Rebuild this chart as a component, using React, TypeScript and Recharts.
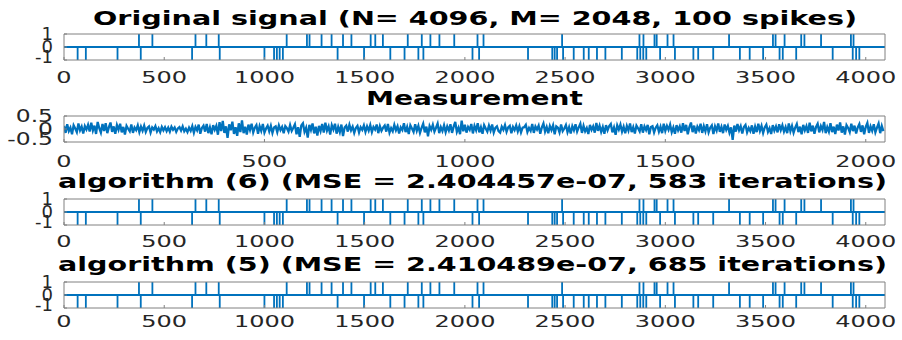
import { LineChart, Line, XAxis, YAxis } from "recharts";

const signalTicks = [0, 500, 1000, 1500, 2000, 2500, 3000, 3500, 4000];
const measTicks = [0, 500, 1000, 1500, 2000];
const spikeYTicks = [-1, 0, 1];
const measYTicks = [-0.5, 0, 0.5];

// spike positions (sorted) and their signs
const spikePos = [
  68, 109, 267, 374, 383, 441, 639, 656, 710, 772, 777, 1000, 1048, 1062, 1076, 1092,
  1111, 1212, 1225, 1285, 1335, 1365, 1392, 1434, 1497, 1530, 1553, 1591, 1628, 1699,
  1715, 1768, 1785, 1793, 1828, 1873, 1947, 2038, 2063, 2071, 2093, 2315, 2436, 2448,
  2460, 2485, 2490, 2543, 2593, 2618, 2659, 2701, 2783, 2860, 2871, 2875, 2890, 2891,
  2905, 2946, 2957, 2974, 3011, 3041, 3048, 3140, 3164, 3239, 3318, 3372, 3421, 3488,
  3537, 3550, 3570, 3586, 3595, 3653, 3678, 3694, 3777, 3835, 3926, 3935, 3939, 3952, 3968,
];
const spikeVal = [
  -1, -1, -1, 1, -1, 1, -1, 1, 1, 1, -1, -1, -1, -1, -1, -1,
  1, 1, 1, 1, 1, -1, 1, 1, -1, 1, 1, 1, -1, -1,
  1, -1, 1, -1, 1, 1, 1, -1, 1, -1, 1, -1, -1, -1,
  -1, 1, -1, -1, -1, -1, -1, -1, -1, -1, 1, -1, -1, 1,
  -1, 1, 1, -1, 1, 1, -1, -1, -1, -1, 1, -1, -1, -1,
  1, 1, -1, -1, 1, -1, 1, 1, 1, -1, 1, -1, 1, -1, -1,
];

// measurement, one value every 4 samples
const measurement = [
  0.12, -0.15, 0.18, -0.08, 0.05, -0.2, 0.14, 0.02, -0.12, 0.21, -0.05, 0.09, -0.17, 0.11, -0.02, 0.16,
  -0.1, 0.24, -0.06, 0.13, -0.19, 0.27, 0.03, -0.14, 0.19, -0.08, 0.22, -0.16, 0.07, 0.25, -0.11, 0.1,
  -0.18, 0.15, -0.03, 0.2, -0.13, 0.08, -0.21, 0.12, 0.01, -0.09, 0.17, -0.15, 0.06, -0.04, 0.14, -0.12,
  0.09, -0.07, 0.13, -0.11, 0.04, 0.1, -0.14, 0.06, -0.02, 0.11, -0.09, 0.03, -0.12, 0.08, -0.05, 0.07,
  -0.08, 0.05, -0.1, 0.09, -0.03, 0.06, -0.11, 0.02, 0.07, -0.06, 0.1, -0.09, 0.01, -0.12, 0.05, -0.07,
  0.11, -0.14, 0.08, -0.05, 0.17, -0.18, 0.04, 0.13, -0.1, 0.19, -0.16, 0.06, -0.2, 0.15, -0.03, 0.12,
  -0.22, 0.26, -0.08, 0.31, -0.15, 0.1, -0.34, 0.18, -0.05, 0.28, -0.19, 0.07, -0.26, 0.22, -0.12, 0.33,
  -0.16, 0.09, -0.21, 0.17, -0.04, 0.2, -0.13, 0.05, 0.15, -0.18, 0.11, -0.07, 0.19, -0.14, 0.02, 0.13,
  -0.09, 0.12, -0.15, 0.06, 0.1, -0.12, 0.14, -0.04, 0.08, -0.16, 0.11, 0.03, -0.1, 0.15, -0.07, 0.05,
  0.18, -0.2, 0.07, -0.3, 0.14, 0.22, -0.11, 0.05, -0.33, 0.16, -0.04, 0.21, -0.17, 0.09, -0.25, 0.12,
  -0.08, 0.19, -0.14, 0.24, -0.06, 0.1, -0.21, 0.15, -0.02, 0.2, -0.18, 0.08, -0.12, 0.17, -0.27, 0.06,
  0.13, -0.1, 0.16, -0.05, 0.09, -0.15, 0.04, 0.12, -0.13, 0.07, -0.03, 0.14, -0.11, 0.1, -0.06, 0.15,
  -0.12, 0.08, -0.02, 0.17, -0.16, 0.11, -0.07, 0.05, 0.13, -0.1, 0.19, -0.14, 0.03, -0.09, 0.16, -0.05,
  0.1, -0.17, 0.06, -0.04, 0.22, -0.12, 0.08, -0.19, 0.14, 0.02, -0.11, 0.18, -0.07, 0.12, -0.15, 0.04,
  0.2, -0.13, 0.09, -0.28, 0.11, -0.03, 0.16, -0.1, 0.05, 0.21, -0.16, 0.07, -0.08, 0.14, -0.12, 0.1,
  -0.06, 0.18, -0.15, 0.09, 0.27, -0.11, 0.05, -0.2, 0.32, -0.09, 0.16, -0.14, 0.08, -0.03, 0.19, -0.17,
  0.12, -0.05, 0.22, -0.13, 0.07, -0.18, 0.15, 0.02, -0.1, 0.13, -0.06, 0.17, -0.14, 0.04, 0.1, -0.08,
  -0.14, 0.09, -0.03, 0.15, -0.11, 0.06, 0.12, -0.16, 0.08, -0.04, 0.14, -0.09, 0.11, -0.13, 0.05, 0.07,
  0.16, -0.12, 0.04, -0.07, 0.19, -0.15, 0.1, -0.02, 0.13, -0.18, 0.06, 0.21, -0.1, 0.08, -0.16, 0.12,
  -0.04, 0.14, -0.2, 0.1, 0.05, -0.13, 0.17, -0.08, 0.02, 0.15, -0.12, 0.07, -0.17, 0.11, -0.05, 0.18,
  -0.1, 0.06, 0.2, -0.15, 0.12, -0.09, 0.04, -0.19, 0.16, -0.03, 0.1, -0.14, 0.23, -0.07, 0.13, -0.11,
  0.08, -0.18, 0.15, -0.05, 0.11, 0.19, -0.13, 0.06, -0.22, 0.14, -0.02, 0.17, -0.1, 0.09, -0.16, 0.12,
  -0.06, 0.21, -0.12, 0.07, -0.17, 0.13, 0.03, -0.09, 0.18, -0.14, 0.1, -0.04, 0.16, -0.2, 0.08, 0.11,
  -0.13, 0.05, 0.14, -0.1, 0.09, -0.16, 0.2, -0.07, 0.12, -0.03, 0.17, -0.12, 0.06, -0.18, 0.15, -0.05,
  0.1, -0.14, 0.22, -0.08, 0.16, -0.2, 0.07, 0.25, -0.12, 0.13, -0.17, 0.09, -0.04, 0.2, -0.15, 0.11,
  -0.09, 0.18, -0.13, 0.05, 0.14, -0.19, 0.1, -0.06, 0.21, -0.11, 0.08, -0.16, 0.17, -0.03, 0.12, -0.14,
  0.06, -0.42, 0.13, -0.1, 0.19, -0.05, 0.11, -0.17, 0.08, 0.16, -0.13, 0.04, -0.08, 0.14, -0.18, 0.09,
  -0.12, 0.2, -0.07, 0.12, -0.15, 0.06, 0.17, -0.11, 0.03, -0.19, 0.15, -0.06, 0.1, -0.13, 0.18, -0.04,
  0.14, -0.1, 0.07, -0.16, 0.21, -0.08, 0.12, -0.14, 0.05, 0.19, -0.12, 0.09, -0.2, 0.16, -0.05, 0.11,
  -0.15, 0.24, -0.09, 0.13, -0.18, 0.08, 0.2, -0.13, 0.11, -0.04, 0.27, -0.16, 0.07, -0.1, 0.22, -0.12,
  0.09, -0.19, 0.17, -0.06, 0.25, -0.14, 0.1, -0.21, 0.15, 0.04, -0.12, 0.2, -0.08, 0.13, -0.17, 0.06,
  0.19, -0.11, 0.14, -0.2, 0.08, 0.23, -0.15, 0.1, -0.07, 0.18, -0.13, 0.05, 0.21, -0.16, 0.12, -0.08,
];

const titles = [
  "Original signal (N= 4096, M= 2048, 100 spikes)",
  "Measurement",
  "algorithm (6) (MSE = 2.404457e-07, 583 iterations)",
  "algorithm (5) (MSE = 2.410489e-07, 685 iterations)",
];

const N = 4096;
const M = 2048;
const BLUE = "#0072BD";
const AXIS = "#808080";
const FONT = "DejaVu Sans";

// stem-like polyline: baseline with vertical excursions at each spike
const spikeData = (() => {
  const pts: { x: number; y: number }[] = [{ x: 0, y: 0 }];
  spikePos.forEach((p, i) => {
    pts.push({ x: p, y: 0 }, { x: p, y: spikeVal[i] }, { x: p, y: 0 });
  });
  pts.push({ x: N, y: 0 });
  return pts;
})();

const measData = measurement.map((v, i) => ({ x: i * 4, y: v }));

function XTick({ x, y, payload }: any) {
  return (
    <text
      transform={`translate(${x},${y}) scale(1.5,1)`}
      textAnchor="middle"
      fontSize={16}
      fontFamily={FONT}
      fill="#262626"
    >
      {payload.value}
    </text>
  );
}

function makeYTick(min: number, sx: number) {
  return function YTick({ x, y, payload }: any) {
    const dy = payload.value === min ? 3 : 6;
    return (
      <text
        transform={`translate(${x},${y + dy}) scale(${sx},1)`}
        textAnchor="end"
        fontSize={18}
        fontFamily={FONT}
        fill="#262626"
      >
        {String(payload.value)}
      </text>
    );
  };
}

type PanelProps = {
  plotTop: number;
  data: { x: number; y: number }[];
  xMax: number;
  xTicks: number[];
  yDomain: [number, number];
  yTicks: number[];
  labelGap: number;
  ySx: number;
  lineWidth: number;
};

function Panel({ plotTop, data, xMax, xTicks, yDomain, yTicks, labelGap, ySx, lineWidth }: PanelProps) {
  const H = 100;
  const plotH = 26;
  return (
    <div style={{ position: "absolute", left: 0, top: plotTop - 30 }}>
      <LineChart
        width={902}
        height={H}
        data={data}
        margin={{ top: 29, right: 16, bottom: H - 30 - plotH - 40, left: 4 }}
      >
        <XAxis
          type="number"
          dataKey="x"
          domain={[0, xMax]}
          ticks={xTicks}
          interval={0}
          height={40}
          stroke={AXIS}
          tickSize={-3}
          tickMargin={labelGap + 3}
          tick={<XTick />}
          allowDataOverflow
        />
        <XAxis
          xAxisId="top"
          orientation="top"
          type="number"
          domain={[0, xMax]}
          ticks={xTicks}
          interval={0}
          height={1}
          stroke={AXIS}
          tickSize={-3}
          tick={false}
        />
        <YAxis
          type="number"
          domain={yDomain}
          ticks={yTicks}
          interval={0}
          width={60}
          stroke={AXIS}
          tickSize={-3}
          tickMargin={14}
          tick={makeYTick(yDomain[0], ySx)}
          allowDataOverflow
        />
        <YAxis
          yAxisId="right"
          orientation="right"
          type="number"
          domain={yDomain}
          ticks={yTicks}
          interval={0}
          width={1}
          stroke={AXIS}
          tickSize={-3}
          tick={false}
        />
        <Line
          type="linear"
          dataKey="y"
          stroke={BLUE}
          strokeWidth={lineWidth}
          dot={false}
          isAnimationActive={false}
        />
      </LineChart>
    </div>
  );
}

const titleBoxes = [
  { x: 93, y: 25, w: 764 },
  { x: 366, y: 105, w: 217 },
  { x: 58, y: 188, w: 829 },
  { x: 58, y: 271, w: 829 },
];

export default function App() {
  return (
    <div
      style={{
        position: "absolute",
        left: 0,
        top: 0,
        width: 902,
        height: 340,
        background: "#fff",
        overflow: "hidden",
      }}
    >
      <Panel plotTop={33.5} data={spikeData} xMax={N} xTicks={signalTicks} yDomain={[-1, 1]} yTicks={spikeYTicks} labelGap={23} ySx={1} lineWidth={1.8} />
      <Panel plotTop={115.7} data={measData} xMax={M} xTicks={measTicks} yDomain={[-0.5, 0.5]} yTicks={measYTicks} labelGap={25} ySx={1.3} lineWidth={2.3} />
      <Panel plotTop={199.3} data={spikeData} xMax={N} xTicks={signalTicks} yDomain={[-1, 1]} yTicks={spikeYTicks} labelGap={22} ySx={1} lineWidth={1.8} />
      <Panel plotTop={282.3} data={spikeData} xMax={N} xTicks={signalTicks} yDomain={[-1, 1]} yTicks={spikeYTicks} labelGap={19} ySx={1} lineWidth={1.8} />
      <svg
        width={902}
        height={340}
        style={{ position: "absolute", left: 0, top: 0, pointerEvents: "none" }}
      >
        {titles.map((t, i) => (
          <text
            key={t}
            x={titleBoxes[i].x}
            y={titleBoxes[i].y}
            fontSize={20}
            fontWeight="bold"
            fontFamily={FONT}
            fill="#000"
            textLength={titleBoxes[i].w}
            lengthAdjust="spacingAndGlyphs"
          >
            {t}
          </text>
        ))}
      </svg>
    </div>
  );
}
